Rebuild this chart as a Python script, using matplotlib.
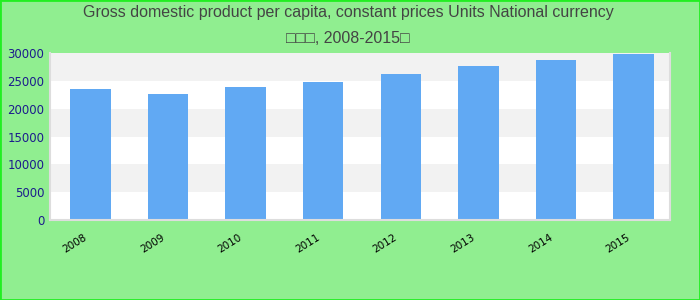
import matplotlib
matplotlib.use("Agg")
from matplotlib import pyplot as plt
import matplotlib.patches as mpatches
import matplotlib.transforms as mtransforms

# data
years = ['2008', '2009', '2010', '2011', '2012', '2013', '2014', '2015']
gdp = [23600, 22600, 24000, 24900, 26300, 27800, 28800, 29900]
yticks = [0, 5000, 10000, 15000, 20000, 25000, 30000]
title = 'Gross domestic product per capita, constant prices Units National currency\n\u25a1\u25a1\u25a1, 2008-2015\u25a1'

fig = plt.figure(figsize=(7, 3), dpi=100, facecolor='#90EE90')
ax = fig.add_axes([50 / 700, 80 / 300, 620 / 700, 166.7 / 300])
ax.set_facecolor('white')

# alternating bands
for lo in range(5000, 30000, 10000):
    ax.axhspan(lo, lo + 5000, color='#F2F2F2', zorder=0, lw=0)

x = list(range(len(years)))
ax.bar(x, gdp, width=0.52, color='#61A9F3', zorder=2)

ax.set_xlim(-0.52, 7.47)
ax.set_ylim(0, 30000)
ax.set_yticks(yticks)
ax.set_yticklabels([str(v) for v in yticks], color='#1c1c8c', fontsize=8.5,
                   family='DejaVu Sans')
ax.set_xticks(x)
ax.set_xticklabels(years, rotation=32, ha='right', rotation_mode='anchor',
                   fontsize=7.5, color='black', family='DejaVu Sans')
ax.tick_params(axis='both', length=0)
ax.tick_params(axis='y', pad=4)
ax.tick_params(axis='x', pad=9)
shift = mtransforms.ScaledTranslation(-7 / 100, 0, fig.dpi_scale_trans)
for lbl in ax.get_xticklabels():
    lbl.set_transform(lbl.get_transform() + shift)

for side in ['left', 'right', 'bottom']:
    ax.spines[side].set_color('#DDDDDD')
    ax.spines[side].set_linewidth(1.5)
ax.spines['top'].set_visible(False)

fig.text(0.497, 0.982, title, ha='center', va='top', fontsize=11.5,
         color='#444444', family='Liberation Sans', linespacing=1.9)

# figure border
fig.patches.append(mpatches.Rectangle((0, 0), 1, 1, transform=fig.transFigure,
                                      fill=False, edgecolor='#22EE22', lw=2))

fig.savefig('out.png', dpi=100, facecolor=fig.get_facecolor())
